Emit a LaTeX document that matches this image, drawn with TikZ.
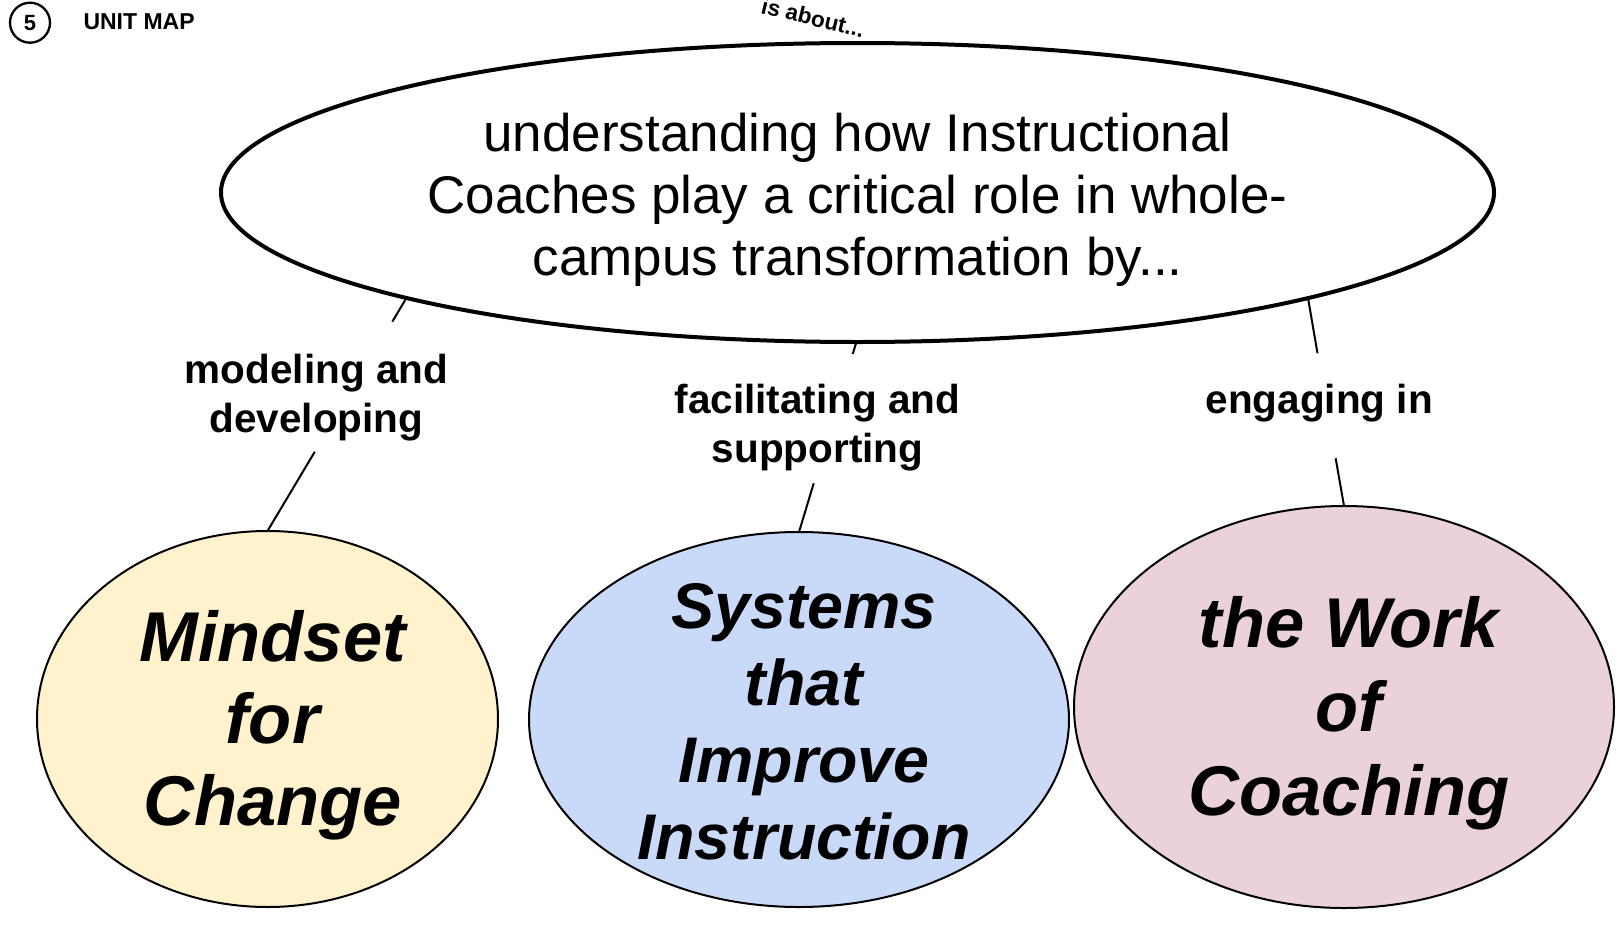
\documentclass[tikz,border=0pt]{standalone}
\usepackage{fontspec}
\setmainfont{Liberation Sans}
\usetikzlibrary{shapes.geometric,calc}
\definecolor{cyellow}{HTML}{FFF2CC}
\definecolor{cblue}{HTML}{C9DAF8}
\definecolor{cpink}{HTML}{EAD1DC}
\newcommand\italshift{\hspace*{10pt}}
\begin{document}
\begin{tikzpicture}[x=1pt,y=-1pt,
  bigconcept/.style={ellipse, draw, line width=4pt, inner sep=0pt, outer sep=0pt,
    minimum width=1273pt, minimum height=299pt, align=center,
    font=\fontsize{53}{62}\selectfont},
  concept/.style={ellipse, draw, line width=2pt, inner sep=-40pt, outer sep=0pt, align=center},
  linkphrase/.style={inner sep=0pt, outer sep=0pt, align=center,
    font=\bfseries\fontsize{40.5}{49.5}\selectfont},
  connector/.style={line width=2pt},
]
\useasboundingbox (0,0) rectangle (1620,937);
\clip (0,0) rectangle (1620,937);
\fill[white] (0,0) rectangle (1620,937);

% header
\node[circle, draw, line width=2.3pt, minimum size=40pt, inner sep=0pt,
  font=\bfseries\fontsize{22}{26}\selectfont] (num) at (30,22.7) {\raisebox{-3pt}{5}};
\node[anchor=base west, inner sep=0pt, font=\bfseries\fontsize{23}{27}\selectfont] (title) at (83.3,29.3) {UNIT MAP};
\node[anchor=base west, rotate=-13.7, inner sep=0pt, font=\bfseries\fontsize{22.5}{27}\selectfont] (about) at (760,13) {is about...};

% main concept
\node[bigconcept] (big) at (857.5,192.5)
  {\rule{0pt}{52pt}understanding how Instructional\\Coaches play a critical role in whole-\\campus transformation by...};

% sub concepts
\node[concept, fill=cyellow, minimum width=461pt, minimum height=376pt,
  font=\bfseries\itshape\fontsize{70.5}{82}\selectfont] (mind) at (267.5,719)
  {\rule{0pt}{63pt}\italshift Mindset\\\italshift for\\\italshift Change};
\node[concept, fill=cblue, minimum width=540pt, minimum height=375pt,
  font=\bfseries\itshape\fontsize{64.5}{77}\selectfont] (sys) at (799,719.5)
  {\rule{0pt}{49pt}\italshift Systems\\\italshift that\\\italshift Improve\\\italshift Instruction};
\node[concept, fill=cpink, minimum width=540pt, minimum height=402pt,
  font=\bfseries\itshape\fontsize{70.5}{84}\selectfont] (work) at (1344,707)
  {\rule{0pt}{63pt}\italshift the Work\\\italshift of\\\italshift Coaching};

% points on the main concept's outline
\coordinate (bigL) at ($(big.center)+(-135.13:636.5pt and 149.5pt)$);
\coordinate (bigM) at ($(big.center)+(-90.1:636.5pt and 149.5pt)$);
\coordinate (bigR) at ($(big.center)+(-44.94:636.5pt and 149.5pt)$);

% linking phrases
\node[linkphrase] (l1) at (316.4,386.7) {\rule{0pt}{61.3pt}modeling and\\developing\rule[-19.2pt]{0pt}{0pt}};
\node[linkphrase] (l2) at (817.5,418.65) {\rule{0pt}{59pt}facilitating and\\supporting\rule[-20.8pt]{0pt}{0pt}};
\node[linkphrase] (l3) at (1319.3,405.8) {\rule{0pt}{60pt}engaging in\rule[-45pt]{0pt}{0pt}};

% connectors
\draw[connector] (bigL) -- (intersection of bigL--mind.north and l1.north west--l1.north east);
\draw[connector] (intersection of bigL--mind.north and l1.south west--l1.south east) -- (mind.north);
\draw[connector] (bigM) -- (intersection of bigM--sys.north and l2.north west--l2.north east);
\draw[connector] (intersection of bigM--sys.north and l2.south west--l2.south east) -- (sys.north);
\draw[connector] (bigR) -- (intersection of bigR--work.north and l3.north west--l3.north east);
\draw[connector] (intersection of bigR--work.north and l3.south west--l3.south east) -- (work.north);
\end{tikzpicture}
\end{document}
